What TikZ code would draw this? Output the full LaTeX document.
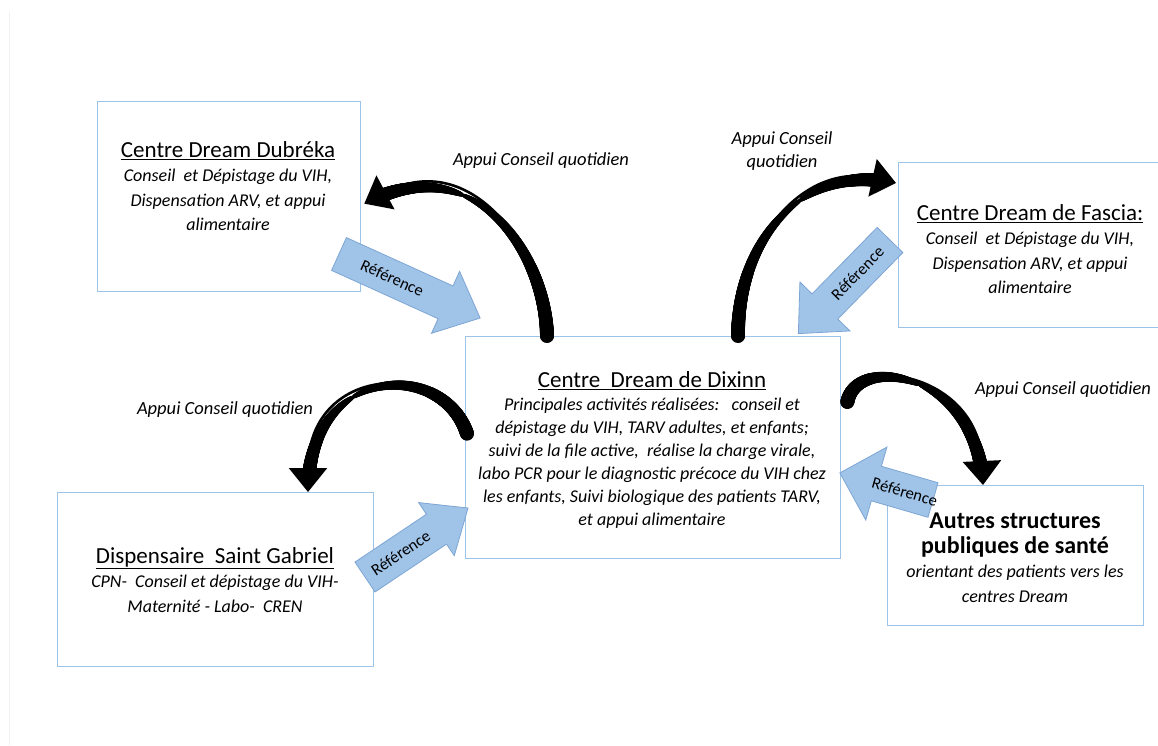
\documentclass[tikz,border=0pt]{standalone}
\usepackage{fontspec}
\setmainfont{Carlito}
\usetikzlibrary{arrows.meta,calc,decorations.markings}

\definecolor{boxblue}{RGB}{157,195,230}
\definecolor{refblue}{RGB}{160,195,232}
\definecolor{refedge}{RGB}{125,165,212}

\tikzset{
  box/.style={draw=boxblue, line width=1.3pt, fill=white, inner sep=0pt, anchor=north west},
  boxtext/.style={align=center, inner sep=0pt, font=\fontsize{18}{24.5}\selectfont\itshape},
  appui/.style={align=center, inner sep=0pt, font=\fontsize{18.5}{23}\selectfont\itshape},
  % twisted black arrow: thick at both ends, thin where it turns (#1 = position of the twist)
  conseil/.style={line width=2.6pt, -{Triangle[length=24pt,width=38pt]},
    postaction={decorate, decoration={markings,
      mark=between positions 0 and 0.93 step 0.5pt with {%
        \pgfmathsetmacro\taperT{(\pgfkeysvalueof{/pgf/decoration/mark info/distance from start})/(\pgfdecoratedpathlength)}%
        \pgfmathsetmacro\taperD{(\taperT<#1) ? ((#1-\taperT)/#1) : ((\taperT-#1)/(0.93-#1))}%
        \pgfmathsetmacro\taperR{1.4+5.6*sqrt(min(1,\taperD))}%
        \fill (0,0) circle[radius=\taperR pt];}}}},
  refarrow/.style={fill=refblue, draw=refedge, line width=0.8pt},
  reflabel/.style={font=\fontsize{16.5}{18}\selectfont, inner sep=0pt},
}

% underlined box title
\newcommand\boxTitle[1]{{\fontsize{23}{25}\selectfont\upshape\underline{#1}}}
% bold title line (Autres structures)
\newcommand\boldLine[1]{{\fontsize{24}{25}\selectfont\upshape\bfseries #1}}

% block arrow "Reference": name, tail, angle, length, head half width, text angle
\newcommand\refArrow[6]{%
  \begin{scope}[shift={#2}, rotate=#3]
    \draw[refarrow] (0,-18) -- ({#4-38},-18) -- ({#4-38},-#5) -- (#4,0)
      -- ({#4-38},#5) -- ({#4-38},18) -- (0,18) -- cycle;
    \node[reflabel, rotate=#6] (#1) at ({(#4-38)/2},0) {Référence};
  \end{scope}}

\begin{document}
\begin{tikzpicture}[x=1pt, y=-1pt]

\useasboundingbox (0,0) rectangle (1158,745);
\draw[gray!12, line width=1pt] (9.5,12) -- (9.5,745);

% Boxes
\node[box, minimum width=263pt, minimum height=190pt] (dubreka) at (97,101) {};
\node[box, minimum width=262pt, minimum height=165pt] (fascia) at (898,162) {};
\node[box, minimum width=375pt, minimum height=222pt] (dixinn) at (465,336) {};
\node[box, minimum width=316pt, minimum height=174pt] (gabriel) at (57,492) {};
\node[box, minimum width=256pt, minimum height=140pt] (autres) at (887,485) {};

% Box texts
\node[boxtext] (dubrekaT) at (228,186) {\boxTitle{Centre Dream Dubréka}\\
  Conseil\ \ et Dépistage du VIH,\\ Dispensation ARV, et appui\\ alimentaire};
\node[boxtext] (fasciaT) at (1030,249) {\boxTitle{Centre Dream de Fascia:}\\
  Conseil\ \ et Dépistage du VIH,\\ Dispensation ARV, et appui\\ alimentaire};
\node[boxtext, font=\fontsize{18}{23}\selectfont\itshape] (dixinnT) at (652,450)
  {\boxTitle{Centre\ \ Dream de Dixinn}\\
  Principales activités réalisées:\ \ \ conseil et\\
  dépistage du VIH, TARV adultes, et enfants;\\
  suivi de la file active,\ \ réalise la charge virale,\\
  labo PCR pour le diagnostic précoce du VIH chez\\
  les enfants, Suivi biologique des patients TARV,\\
  et appui alimentaire};
\node[boxtext] (gabrielT) at (215,580) {\boxTitle{Dispensaire\ \ Saint Gabriel}\\
  CPN-\ \ Conseil et dépistage du VIH-\\ Maternité - Labo-\ \ CREN};
\node[boxtext] (autresT) at (1015,558)
  {\boldLine{Autres structures}\\ \boldLine{publiques de santé}\\
  orientant des patients vers les\\ centres Dream};

% Appui Conseil quotidien
\draw[conseil=0.62] ($(dixinn.north west)+(82,0)$) .. controls +(-2,-86) and +(107,-57) .. ($(dubreka.east)+(3,7)$);
\draw[conseil=0.6] ($(dixinn.north west)+(273,0)$) .. controls +(0,-100) and +(-90,-20) .. ($(fascia.north west)+(-2,21)$);
\draw[conseil=0.55] ($(dixinn.west)+(2,-14)$) .. controls +(-25,-75) and +(0,-127) .. ($(gabriel.north west)+(251,0)$);
\draw[conseil=0.4] ($(dixinn.north east)+(6,66)$) .. controls +(10,-50) and +(-5,-110) .. ($(autres.north west)+(96,0)$);

\node[appui] (appuiA) at (541,161) {Appui Conseil quotidien};
\node[appui] (appuiB) at (782,151) {Appui Conseil\\ quotidien};
\node[appui] (appuiC) at (225,410) {Appui Conseil quotidien};
\node[appui] (appuiD) at (1063,390) {Appui Conseil quotidien};

% Reference arrows
\refArrow{refA}{(339,254)}{-24.4}{155}{34}{-24.4}
\refArrow{refB}{(890,240)}{225.6}{131}{35}{45.6}
\refArrow{refC}{(365,577)}{33.8}{124}{32}{33.8}
\refArrow{refD}{(933,500)}{163.8}{97}{38}{-16.2}

\end{tikzpicture}
\end{document}
